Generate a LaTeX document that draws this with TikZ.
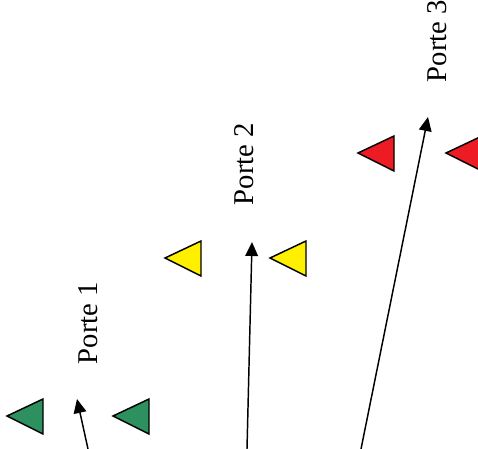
\documentclass[tikz,border=0pt]{standalone}
\usepackage{fontspec}
\setmainfont{Liberation Serif}
\usetikzlibrary{arrows.meta}
\definecolor{gateGreen}{RGB}{44,145,94}
\definecolor{gateYellow}{RGB}{255,240,0}
\definecolor{gateRed}{RGB}{237,28,36}
\tikzset{
  marker/.pic={
    \draw[line width=1.1pt, line join=miter, fill=#1] (0,0) -- (36,-17) -- (36,18) -- cycle;
  },
  path arrow/.style={line width=1.1pt, -{Triangle[length=10.5pt,width=9.5pt]}},
  gate label/.style={rotate=90, font=\fontsize{21.5}{24}\selectfont, inner sep=0pt}
}
\begin{document}
\begin{tikzpicture}[x=0.75pt,y=-0.75pt]
\useasboundingbox (0,0) rectangle (478,449);
\clip (0,0) rectangle (478,449);
% gate 1
\pic at (7,416) {marker=gateGreen};
\pic at (113,416) {marker=gateGreen};
\coordinate (s1) at (88,449);
\coordinate (t1) at (77,399);
\draw[path arrow] (s1) -- (t1);
\node[gate label] (p1) at (88,323) {Porte 1};
% gate 2
\pic at (165,258) {marker=gateYellow};
\pic at (270,258) {marker=gateYellow};
\coordinate (s2) at (247,449);
\coordinate (t2) at (252,242);
\draw[path arrow] (s2) -- (t2);
\node[gate label] (p2) at (244,164) {Porte 2};
% gate 3
\pic at (358,153) {marker=gateRed};
\pic at (446,153) {marker=gateRed};
\coordinate (s3) at (361,449);
\coordinate (t3) at (428,117);
\draw[path arrow] (s3) -- (t3);
\node[gate label] (p3) at (437,41) {Porte 3};
\end{tikzpicture}
\end{document}
